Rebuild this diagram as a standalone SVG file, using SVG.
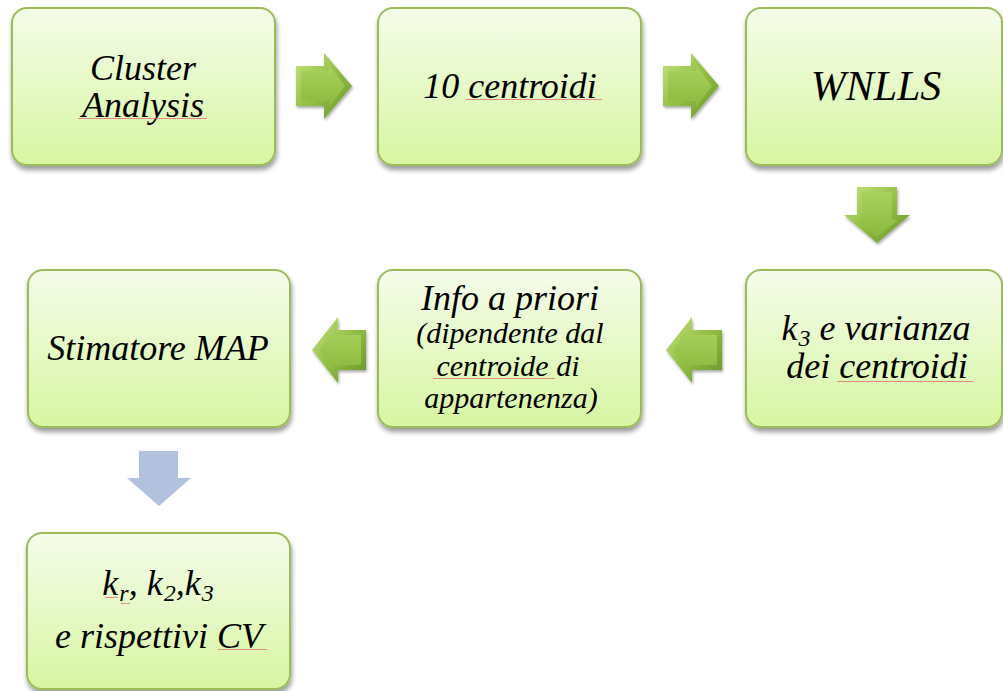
<svg xmlns="http://www.w3.org/2000/svg" width="1003" height="691" viewBox="0 0 1003 691">
  <defs>
    <linearGradient id="boxFill" x1="0" y1="0" x2="0" y2="1">
      <stop offset="0" stop-color="#f5fcea"/>
      <stop offset="1" stop-color="#d7f6a2"/>
    </linearGradient>
    <linearGradient id="arrowEdge" x1="0" y1="0" x2="1" y2="1">
      <stop offset="0" stop-color="#c6e383"/>
      <stop offset="0.5" stop-color="#93bf45"/>
      <stop offset="1" stop-color="#66922a"/>
    </linearGradient>
    <linearGradient id="arrowFace" x1="0" y1="0" x2="0" y2="1">
      <stop offset="0" stop-color="#a9d25c"/>
      <stop offset="1" stop-color="#8db93f"/>
    </linearGradient>
    <filter id="shadow" x="-10%" y="-10%" width="120%" height="130%">
      <feGaussianBlur in="SourceAlpha" stdDeviation="2.5"/>
      <feOffset dx="1" dy="4" result="b"/>
      <feComponentTransfer><feFuncA type="linear" slope="0.4"/></feComponentTransfer>
      <feMerge><feMergeNode/><feMergeNode in="SourceGraphic"/></feMerge>
    </filter>
    <filter id="arrowShadow" x="-20%" y="-20%" width="140%" height="150%">
      <feGaussianBlur in="SourceAlpha" stdDeviation="1.5"/>
      <feOffset dx="1" dy="2" result="b"/>
      <feComponentTransfer><feFuncA type="linear" slope="0.35"/></feComponentTransfer>
      <feMerge><feMergeNode/><feMergeNode in="SourceGraphic"/></feMerge>
    </filter>
  </defs>
  <style>
    .box { fill: url(#boxFill); stroke: #9bbb59; stroke-width: 2; filter: url(#shadow); }
    text { fill: #000; text-anchor: middle; }
    .big { font-size: 36px; }
    .mid { font-size: 30px; }
    .huge { font-size: 42px; }
    .sub { font-size: 24px; }
    .spell { stroke: #e07070; stroke-width: 1; fill: none; opacity: 0.8; }
    .aout { fill: url(#arrowEdge); }
    .ain { fill: url(#arrowFace); }
    .blue { fill: #b1c1de; }
  </style>

  <rect width="1003" height="691" fill="#ffffff"/>

  <!-- connectors: bevelled block arrows -->
  <g id="connectors">
    <g filter="url(#arrowShadow)">
      <path class="aout" d="M296,66 H324 V53 L352,86 L324,119 V106 H296 Z"/>
      <path class="ain" d="M301,71 H329 V65 L345,86 L329,107 V101 H301 Z"/>
    </g>
    <g filter="url(#arrowShadow)">
      <path class="aout" d="M663,66 H691 V53 L719,86 L691,119 V106 H663 Z"/>
      <path class="ain" d="M668,71 H696 V65 L712,86 L696,107 V101 H668 Z"/>
    </g>
    <g filter="url(#arrowShadow)">
      <path class="aout" d="M857,187 V215 H844 L877,243 L910,215 H897 V187 Z"/>
      <path class="ain" d="M862,192 V220 H856 L877,236 L898,220 H892 V192 Z"/>
    </g>
    <g filter="url(#arrowShadow)">
      <path class="aout" d="M722,330 H692 V317 L666,350 L692,383 V370 H722 Z"/>
      <path class="ain" d="M717,335 H687 V329 L673,350 L687,371 V365 H717 Z"/>
    </g>
    <g filter="url(#arrowShadow)">
      <path class="aout" d="M366,330 H338 V317 L312,350 L338,383 V370 H366 Z"/>
      <path class="ain" d="M361,335 H333 V329 L319,350 L333,371 V365 H361 Z"/>
    </g>
    <path class="blue" d="M139,451 V478 H127 L159,506 L191,478 H178 V451 Z"/>
  </g>

  <!-- all labels: Times-metric serif, italic -->
  <g font-family="Liberation Serif, DejaVu Serif, serif" font-style="italic">
    <g id="cluster-analysis">
      <rect class="box" x="12" y="8" width="263" height="157" rx="15"/>
      <text class="big" x="143" y="80">Cluster</text>
      <text class="big" x="143" y="117">Analysis</text>
      <path class="spell" d="M78,118.5 H207"/>
    </g>

    <g id="centroidi">
      <rect class="box" x="378" y="8" width="263" height="157" rx="15"/>
      <text class="big" x="510" y="98">10 centroidi</text>
      <path class="spell" d="M466,99.5 H602"/>
    </g>

    <g id="wnlls">
      <rect class="box" x="746" y="8" width="256" height="157" rx="15"/>
      <text class="huge" x="876" y="100">WNLLS</text>
    </g>

    <g id="k3-varianza">
      <rect class="box" x="746" y="270" width="256" height="157" rx="15"/>
      <text class="big" x="876" y="340">k<tspan class="sub" dx="1" dy="6">3</tspan><tspan dy="-6"> e varianza</tspan></text>
      <text class="big" x="877" y="378">dei centroidi</text>
      <path class="spell" d="M837,381.5 H973"/>
    </g>

    <g id="info-a-priori">
      <rect class="box" x="378" y="270" width="263" height="157" rx="15"/>
      <text class="big" x="510" y="310">Info a priori</text>
      <text class="mid" x="510" y="343">(dipendente dal</text>
      <text class="mid" x="508" y="376">centroide di</text>
      <text class="mid" x="511" y="408">appartenenza)</text>
      <path class="spell" d="M433,378.5 H555"/>
    </g>

    <g id="stimatore-map">
      <rect class="box" x="28" y="270" width="262" height="157" rx="15"/>
      <text class="big" x="158" y="360">Stimatore MAP</text>
    </g>

    <g id="risultati">
      <rect class="box" x="27" y="533" width="263" height="156" rx="15"/>
      <text class="big" x="158" y="595">k<tspan class="sub" dx="1" dy="6">r</tspan><tspan dy="-6">, k</tspan><tspan class="sub" dx="1" dy="6">2</tspan><tspan dy="-6">,k</tspan><tspan class="sub" dx="1" dy="6">3</tspan></text>
      <text class="big" x="159" y="648">e rispettivi CV</text>
      <path class="spell" d="M105,597.5 H118 M121,603.5 H130"/>
      <path class="spell" d="M218,649.5 H267"/>
    </g>
  </g>
</svg>
